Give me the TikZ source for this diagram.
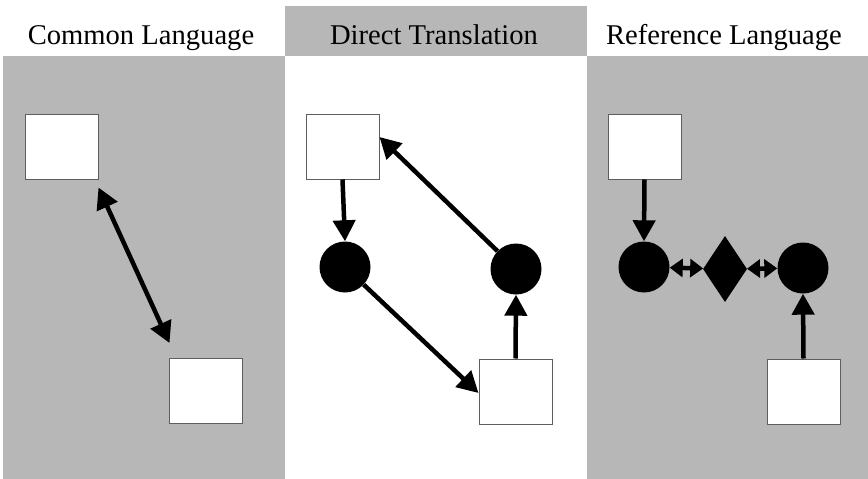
\documentclass[tikz,border=0pt]{standalone}
\usepackage{fontspec}
\setmainfont{Liberation Serif}
\usetikzlibrary{arrows.meta,shapes.geometric,calc}
\definecolor{panelgray}{HTML}{B7B7B7}
\definecolor{edgegray}{HTML}{5E5E5E}
\tikzset{
  box/.style={rectangle,draw=edgegray,line width=1pt,fill=white,minimum width=73pt,minimum height=65pt,inner sep=0pt},
  dot/.style={circle,fill=black,minimum size=51pt,inner sep=0pt},
  gem/.style={diamond,fill=black,minimum width=44pt,minimum height=66pt,inner sep=0pt},
  conn/.style={line width=4.5pt,-{Triangle[length=21pt,width=22pt]}},
  biconn/.style={line width=4.5pt,{Triangle[length=21pt,width=22pt]}-{Triangle[length=21pt,width=22pt]}},
  shortbi/.style={line width=4.5pt,{Triangle[length=13pt,width=18pt]}-{Triangle[length=13pt,width=18pt]}},
  title/.style={font=\fontsize{28.6}{30}\selectfont,anchor=base,inner sep=0pt}
}
\begin{document}
\begin{tikzpicture}[x=1pt,y=-1pt]
\useasboundingbox (0,0) rectangle (868,479);
\fill[white] (0,0) rectangle (868,479);
% panels
\fill[panelgray] (3,56) rectangle (285,479);
\fill[panelgray] (285,6) rectangle (587,56);
\fill[panelgray] (587,56) rectangle (868,479);
% titles
\node[title] (t1) at (141,45) {Common Language};
\node[title] (t2) at (434,45) {Direct Translation};
\node[title] (t3) at (724,45) {Reference Language};
% left panel
\node[box] (la) at (61.5,146.5) {};
\node[box] (lb) at (205.5,391) {};
\draw[biconn] ($(la.south east)+(0,8)$) -- ($(lb.north west)+(1,-15)$);
% middle panel
\node[box] (ma) at (342.5,146.5) {};
\node[dot] (mc) at (345,267) {};
\node[dot] (md) at (516,269) {};
\node[box] (mb) at (515.5,391.5) {};
\draw[conn] (ma.south) -- (mc.north);
\draw[conn] (mc) -- ($(mb.west)+(0,1.5)$);
\draw[conn] (mb.north) -- (md.south);
\draw[conn] (md) -- ($(ma.east)+(0,-9.5)$);
% right panel
\node[box] (ra) at (644.5,146.5) {};
\node[dot] (rc) at (644,267) {};
\node[gem] (rg) at (725,269) {};
\node[dot] (rd) at (803,268) {};
\node[box] (rb) at (803.5,391.5) {};
\draw[conn] (ra.south) -- (rc.north);
\draw[shortbi] (rc) -- (rg);
\draw[shortbi] (rg) -- (rd);
\draw[conn] (rb.north) -- (rd.south);
\end{tikzpicture}
\end{document}
